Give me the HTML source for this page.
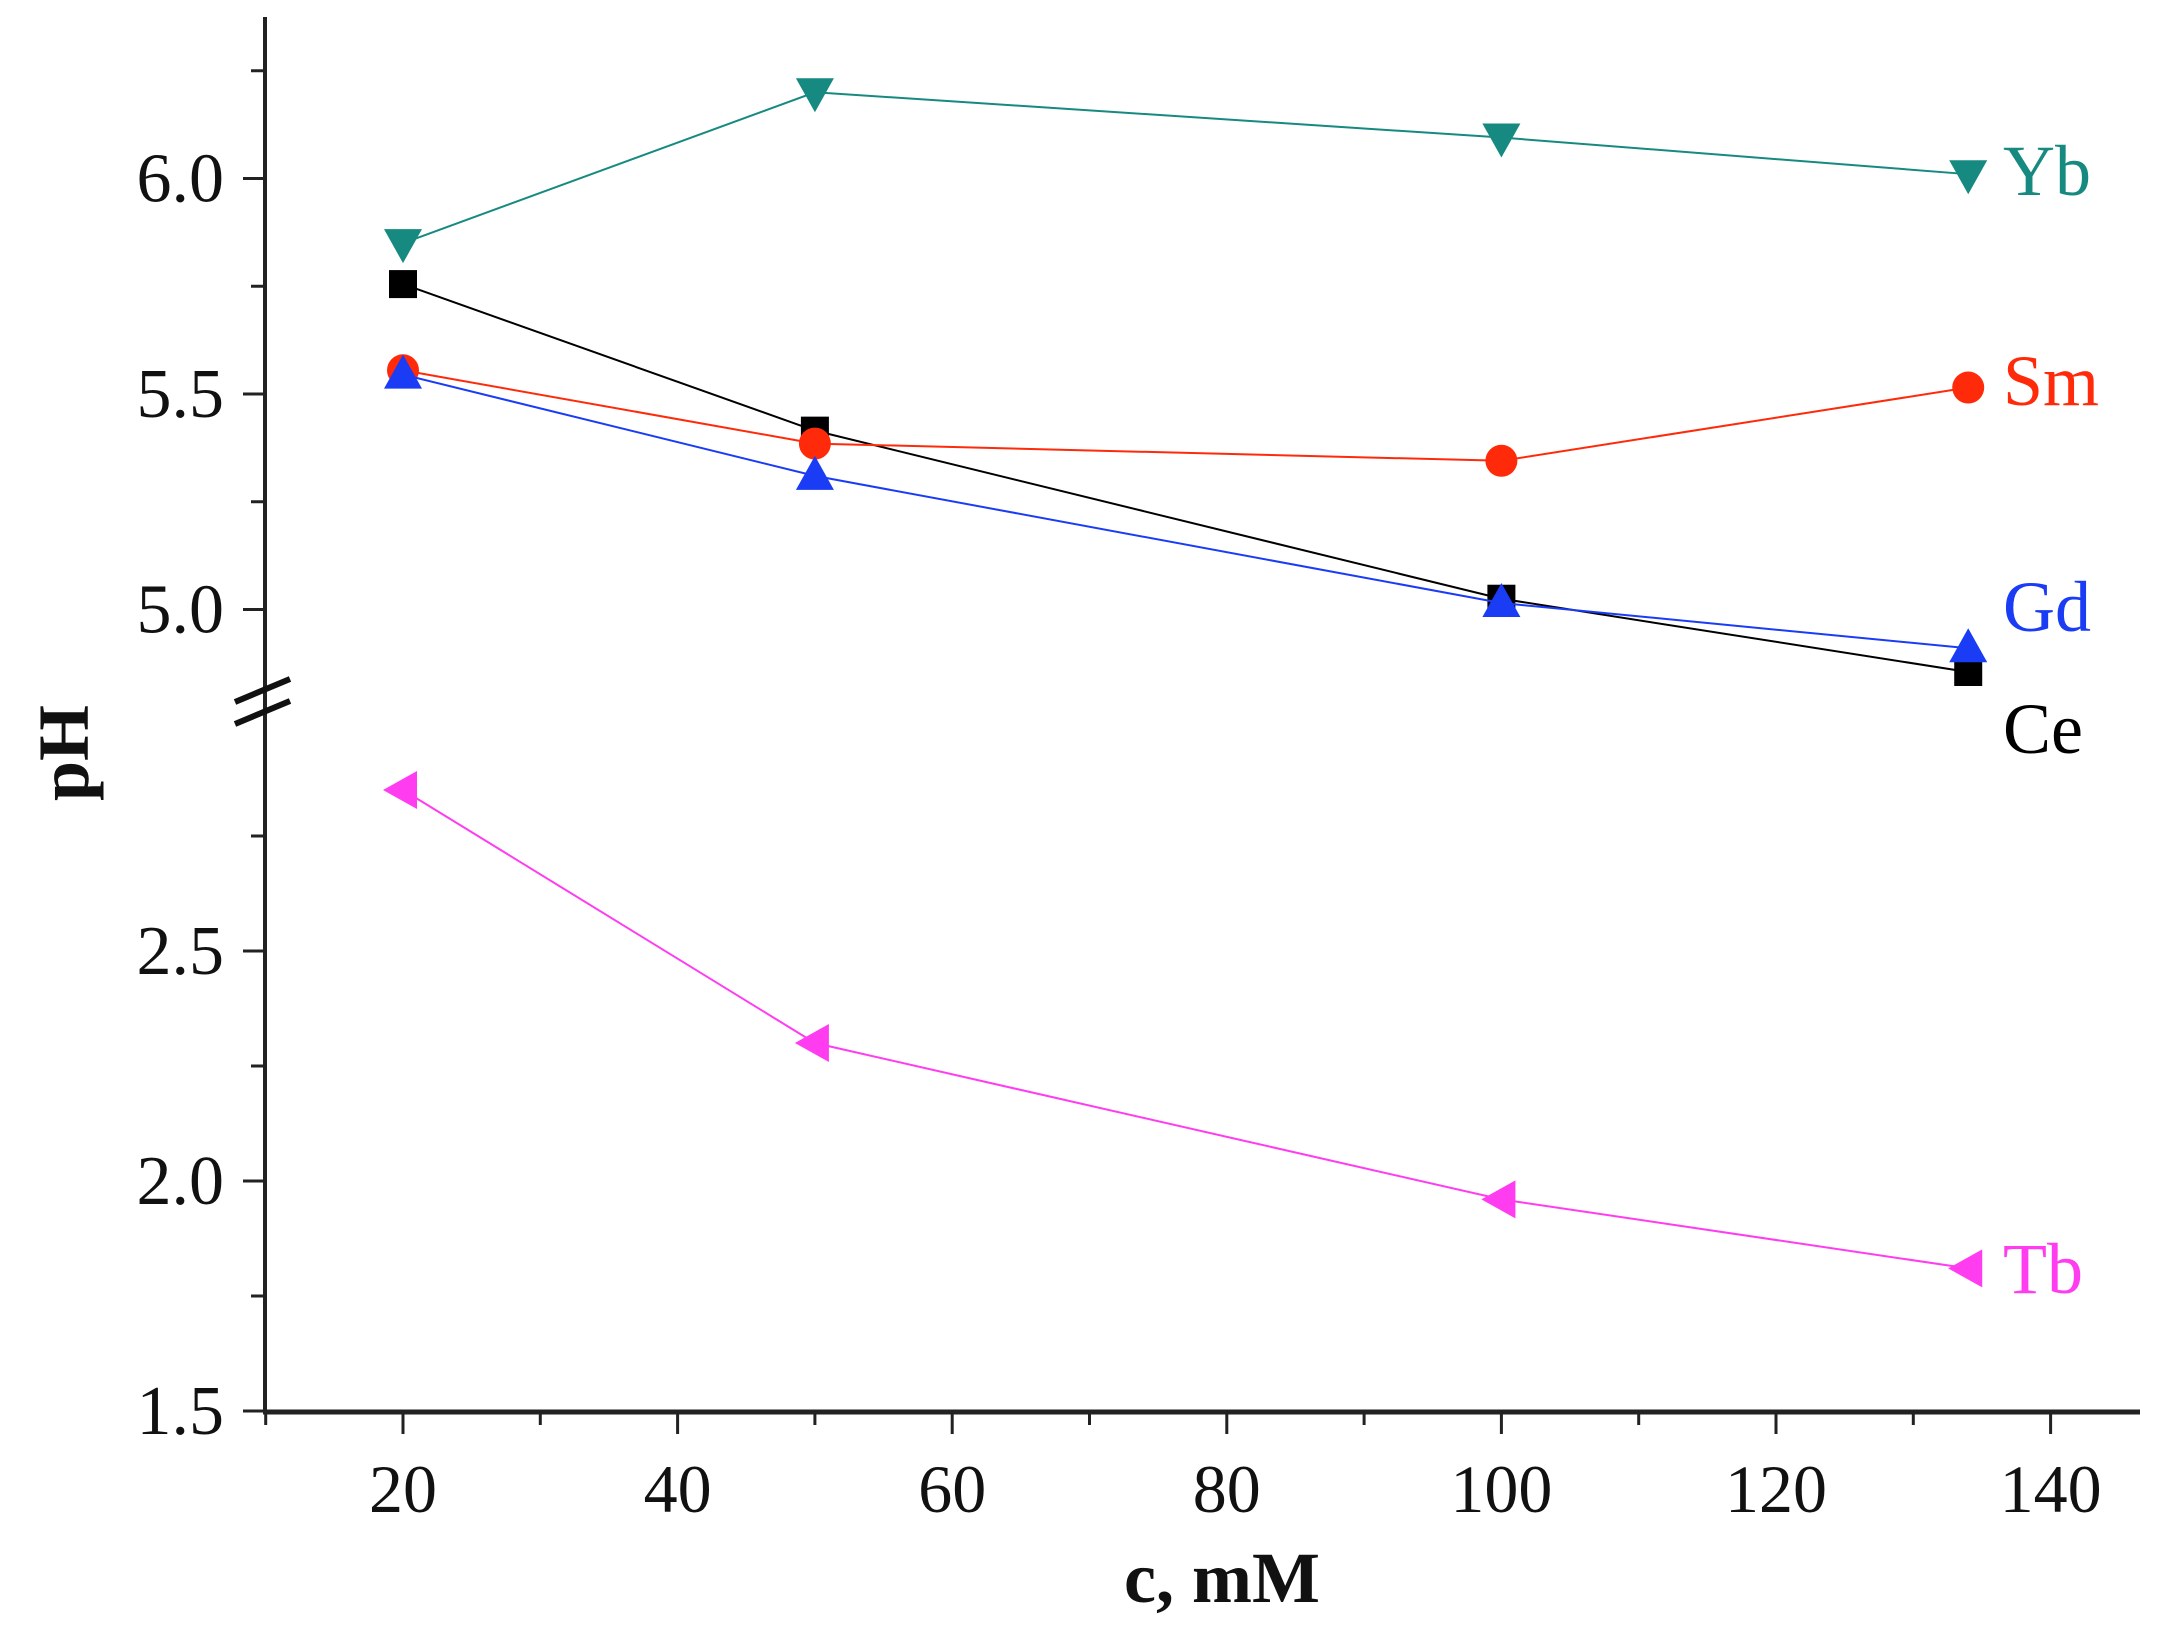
<!DOCTYPE html>
<html><head><meta charset="utf-8"><style>
html,body{margin:0;padding:0;background:#fff;}
svg{display:block;font-family:"Liberation Serif",serif;}
</style></head><body>
<svg id="chart" width="2160" height="1626" viewBox="0 0 2160 1626" xmlns="http://www.w3.org/2000/svg"></svg>
<script>
const xValues = [20, 50, 100, 134];
const seriesNames = ["Yb", "Ce", "Sm", "Gd", "Tb"];
const ybValues = [5.85, 6.20, 6.095, 6.01];
const ceValues = [5.755, 5.415, 5.025, 4.855];
const smValues = [5.555, 5.385, 5.345, 5.515];
const gdValues = [5.545, 5.31, 5.015, 4.91];
const tbValues = [2.85, 2.30, 1.96, 1.81];
const xTickLabels = [20, 40, 60, 80, 100, 120, 140];
const xMinorTicks = [10, 30, 50, 70, 90, 110, 130];
const yUpperTickLabels = [5.0, 5.5, 6.0];
const yUpperMinor = [5.25, 5.75, 6.25];
const yLowerTickLabels = [1.5, 2.0, 2.5];
const yLowerMinor = [1.75, 2.25, 2.75];

const NS = "http://www.w3.org/2000/svg";
const svg = document.getElementById("chart");
function X(v){ return 403 + (v - 20) * 13.73; }
function YU(v){ return 178.5 - (v - 6.0) * 431; }
function YL(v){ return 1411 - (v - 1.5) * 460; }
function mk(tag, attrs, parent){
  const e = document.createElementNS(NS, tag);
  for (const k in attrs) e.setAttribute(k, attrs[k]);
  (parent || svg).appendChild(e);
  return e;
}
const axisColor = "#222";
let el = mk("line", {x1:265, y1:17, x2:265, y2:1413, stroke:axisColor, "stroke-width":4});


el = mk("line", {x1:263, y1:1412, x2:2140, y2:1412, stroke:axisColor, "stroke-width":5});


const brk = mk("g", {});


mk("line", {x1:235, y1:702, x2:290, y2:679, stroke:"#111", "stroke-width":6}, brk);
mk("line", {x1:235, y1:724, x2:290, y2:701, stroke:"#111", "stroke-width":6}, brk);

xTickLabels.forEach(v => {
  const t = mk("line", {x1:X(v), y1:1412, x2:X(v), y2:1434, stroke:axisColor, "stroke-width":3});
  
  
  const l = mk("text", {x:X(v), y:1512, "text-anchor":"middle", "font-size":68, fill:"#111"});
  l.textContent = v;
  
  
});
xMinorTicks.forEach(v => {
  const t = mk("line", {x1:X(v), y1:1412, x2:X(v), y2:1425, stroke:axisColor, "stroke-width":3});
  
  
});
function yTicks(labels, minors, Y){
  labels.forEach(v => {
    const t = mk("line", {x1:243, y1:Y(v), x2:265, y2:Y(v), stroke:axisColor, "stroke-width":3});
    
    
    const l = mk("text", {x:224, y:Y(v)+23, "text-anchor":"end", "font-size":70, fill:"#111"});
    l.textContent = v.toFixed(1);
    
    
  });
  minors.forEach(v => {
    const t = mk("line", {x1:251, y1:Y(v), x2:265, y2:Y(v), stroke:axisColor, "stroke-width":3});
    
    
  });
}
yTicks(yUpperTickLabels, yUpperMinor, YU);
yTicks(yLowerTickLabels, yLowerMinor, YL);

el = mk("text", {x:1222, y:1602, "text-anchor":"middle", "font-size":72, "font-weight":"bold", fill:"#111"});
el.textContent = "c, mM";


el = mk("text", {x:0, y:0, "text-anchor":"middle", "font-size":72, "font-weight":"bold", fill:"#111", transform:"translate(88,753) rotate(-90)"});
el.textContent = "pH";



function marker(shape, cx, cy, color, g){
  const s = 17;
  if (shape === "square") return mk("rect", {x:cx-14, y:cy-14, width:28, height:28, fill:color}, g);
  if (shape === "circle") return mk("circle", {cx:cx, cy:cy, r:16, fill:color}, g);
  let pts;
  if (shape === "down") pts = [[cx-s-2,cy-s+3],[cx+s+2,cy-s+3],[cx,cy+s+3]];
  if (shape === "up") pts = [[cx-s-2,cy+s-3],[cx+s+2,cy+s-3],[cx,cy-s-3]];
  if (shape === "left") pts = [[cx-s-3,cy],[cx+s-3,cy-s-2],[cx+s-3,cy+s+2]];
  return mk("polygon", {points: pts.map(p=>p.join(",")).join(" "), fill:color}, g);
}
function series(name, values, Y, color, shape, labelY){
  const g = mk("g", {});
  
  
  const pts = values.map((v,i)=>[X(xValues[i]), Y(v)]);
  const line = mk("polyline", {points: pts.map(p=>p.join(",")).join(" "), fill:"none", stroke:color, "stroke-width":2}, g);
  
  
  pts.forEach(p => {
    const m = marker(shape, p[0], p[1], color, g);
    
    
  });
  const t = mk("text", {x:2003, y:labelY, "font-size":72, fill:color}, g);
  t.textContent = name;
  
  
}
series(seriesNames[1], ceValues, YU, "#000000", "square", 753);
series(seriesNames[2], smValues, YU, "#ff2a0a", "circle", 405);
series(seriesNames[3], gdValues, YU, "#1a3cf5", "up", 631);
series(seriesNames[0], ybValues, YU, "#168a80", "down", 195);
series(seriesNames[4], tbValues, YL, "#ff3cf0", "left", 1293);
</script>
</body></html>
